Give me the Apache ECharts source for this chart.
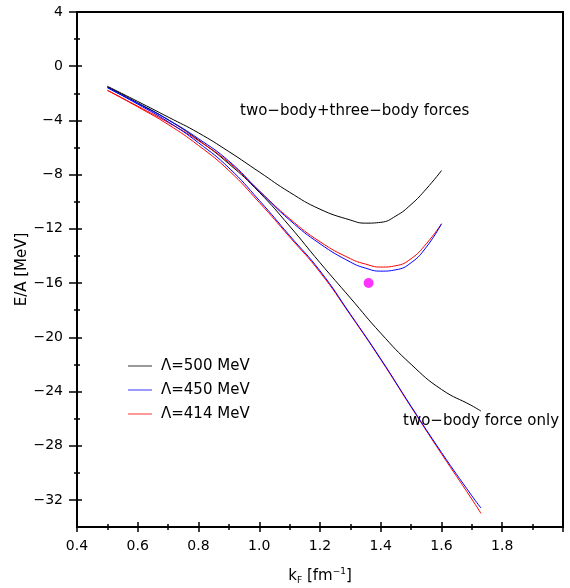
<!DOCTYPE html>
<html>
<head>
<meta charset="utf-8">
<script src="https://cdn.jsdelivr.net/npm/echarts@6/dist/echarts.min.js"></script>
<style>
html,body{margin:0;padding:0;background:#fff;}
#c{width:570px;height:588px;}
</style>
</head>
<body>
<div id="c"></div>
<script>
// ---- data ----
const kTwoBody = [0.5,0.6,0.7,0.8,0.9,1.0,1.1,1.2,1.3,1.4,1.5,1.6,1.7,1.73];
const e500Two  = [-1.52,-2.7,-3.95,-5.45,-7.2,-9.3,-11.8,-14.5,-17.1,-19.7,-22.0,-23.85,-25.05,-25.45];
const e450Two  = [-1.58,-2.8,-4.1,-5.65,-7.5,-9.9,-12.5,-15.1,-18.3,-21.6,-25.1,-28.5,-31.7,-32.6];
const e414Two  = [-1.78,-3.0,-4.3,-5.85,-7.7,-10.05,-12.6,-15.2,-18.35,-21.65,-25.15,-28.6,-31.95,-33.0];

const kThreeBody = [0.5,0.6,0.7,0.8,0.9,1.0,1.1,1.2,1.3,1.35,1.4,1.45,1.5,1.55,1.6];
const e500Three  = [-1.48,-2.6,-3.75,-4.92,-6.3,-7.8,-9.3,-10.55,-11.35,-11.58,-11.52,-11.05,-10.2,-9.05,-7.7];
const e450Three  = [-1.58,-2.75,-3.95,-5.35,-7.0,-9.2,-11.35,-13.1,-14.45,-14.9,-15.12,-15.02,-14.5,-13.35,-11.63];
const e414Three  = [-1.78,-2.95,-4.15,-5.5,-7.1,-9.2,-11.25,-12.95,-14.2,-14.6,-14.82,-14.72,-14.2,-13.1,-11.63];

const empiricalPoint = [1.36, -16.0];

const seriesNames = ['\u039b=500 MeV','\u039b=450 MeV','\u039b=414 MeV'];
const yMajorTicks = [-32,-28,-24,-20,-16,-12,-8,-4,0,4];
const yMinorTicks = [-30,-26,-22,-18,-14,-10,-6,-2,2];
const annotations = ['two\u2212body+three\u2212body forces','two\u2212body force only'];

// ---- chart ----
const FONT = 'DejaVu Sans';
const pairs = (ks, es) => ks.map((k,i)=>[k, es[i]]);
const chart = echarts.init(document.getElementById('c'), null, {renderer:'canvas'});

function lineSeries(name, color, ks, es){
  return {
    name: name, type:'line', xAxisIndex:0, yAxisIndex:0,
    data: pairs(ks, es), smooth:0.5, symbol:'none', showSymbol:false,
    lineStyle:{color:color, width:1}, itemStyle:{color:color},
    emphasis:{disabled:true}, animation:false, z:3
  };
}

const yBase = {type:'value', min:-34, max:4, position:'left', offset:0, splitLine:{show:false}};
const xBase = {type:'value', min:0.4, max:2.0, interval:0.2, position:'bottom', offset:0, splitLine:{show:false}};

const option = {
  animation:false,
  backgroundColor:'#fff',
  grid:{left:77, right:7, top:12, bottom:61, outerBoundsMode:'none', containLabel:false,
        show:true, borderColor:'#000', borderWidth:2, backgroundColor:'transparent'},
  legend:{
    data:seriesNames, orient:'vertical', left:128, top:358, padding:0,
    itemWidth:24, itemHeight:16, itemGap:8,
    textStyle:{fontFamily:FONT, fontSize:15, color:'#000', lineHeight:16, padding:[0,0,0,4]},
    icon:'path://M0,8 L24,8 L24,8.8 L0,8.8 Z'
  },
  xAxis:[
    Object.assign({}, xBase, {
      axisLine:{show:true, onZero:false, lineStyle:{color:'#000', width:2}},
      axisTick:{show:true, inside:false, length:5, lineStyle:{color:'#000', width:1.5}},
      minorTick:{show:true, splitNumber:2, length:3, lineStyle:{color:'#000', width:1.5}},
      axisLabel:{show:true, margin:12, fontFamily:FONT, fontSize:14, color:'#000', showMaxLabel:false,
        formatter:v=>v.toFixed(1)},
      name:'{k|k}{s|F}{k| [fm}{p|\u22121}{k|]}', nameLocation:'middle', nameGap:40, nameMoveOverlap:false,
      nameTextStyle:{rich:{
        k:{fontFamily:FONT, fontSize:15, color:'#000'},
        s:{fontFamily:FONT, fontSize:9, color:'#000', padding:[9,0,0,0]},
        p:{fontFamily:FONT, fontSize:9, color:'#000', padding:[0,0,9,0]}
      }}
    }),
    Object.assign({}, xBase, {
      axisLine:{show:false, onZero:false},
      axisTick:{show:true, inside:true, length:5, lineStyle:{color:'#000', width:1.5}},
      minorTick:{show:true, splitNumber:2, length:3, lineStyle:{color:'#000', width:1.5}},
      axisLabel:{show:false}
    })
  ],
  yAxis:[
    Object.assign({}, yBase, {
      axisLine:{show:true, onZero:false, lineStyle:{color:'#000', width:2}},
      axisTick:{show:true, inside:false, length:8, customValues:yMajorTicks, lineStyle:{color:'#000', width:1.5}},
      axisLabel:{show:true, margin:14, fontFamily:FONT, fontSize:14, color:'#000', customValues:yMajorTicks,
        formatter:v=>String(v).replace('-', '\u2212')},
      name:'E/A [MeV]', nameLocation:'middle', nameGap:47, nameRotate:90, nameMoveOverlap:false,
      nameTextStyle:{fontFamily:FONT, fontSize:15, color:'#000'}
    }),
    Object.assign({}, yBase, {
      axisLine:{show:false, onZero:false},
      axisTick:{show:true, inside:true, length:5, customValues:yMajorTicks, lineStyle:{color:'#000', width:1.5}},
      axisLabel:{show:false}
    }),
    Object.assign({}, yBase, {
      axisLine:{show:false, onZero:false},
      axisTick:{show:true, inside:false, length:3, customValues:yMinorTicks, lineStyle:{color:'#000', width:1.5}},
      axisLabel:{show:false}
    }),
    Object.assign({}, yBase, {
      axisLine:{show:false, onZero:false},
      axisTick:{show:true, inside:true, length:3, customValues:yMinorTicks, lineStyle:{color:'#000', width:1.5}},
      axisLabel:{show:false}
    })
  ],
  graphic:[
    {type:'text', left:240, top:104, style:{text:annotations[0], font:'15px "DejaVu Sans"', fill:'#000'}, z:10},
    {type:'text', left:403, top:414, style:{text:annotations[1], font:'15px "DejaVu Sans"', fill:'#000'}, z:10}
  ],
  series:[
    lineSeries(seriesNames[0], '#000000', kThreeBody, e500Three),
    lineSeries(seriesNames[0], '#000000', kTwoBody, e500Two),
    lineSeries(seriesNames[2], '#ff0000', kThreeBody, e414Three),
    lineSeries(seriesNames[2], '#ff0000', kTwoBody, e414Two),
    lineSeries(seriesNames[1], '#0000ff', kThreeBody, e450Three),
    lineSeries(seriesNames[1], '#0000ff', kTwoBody, e450Two),
    {
      name:'empirical', type:'scatter', xAxisIndex:0, yAxisIndex:0,
      data:[empiricalPoint], symbol:'circle', symbolSize:10,
      itemStyle:{color:'#ff00ff'}, emphasis:{disabled:true}, z:4
    }
  ]
};
chart.setOption(option);
</script>
</body>
</html>
